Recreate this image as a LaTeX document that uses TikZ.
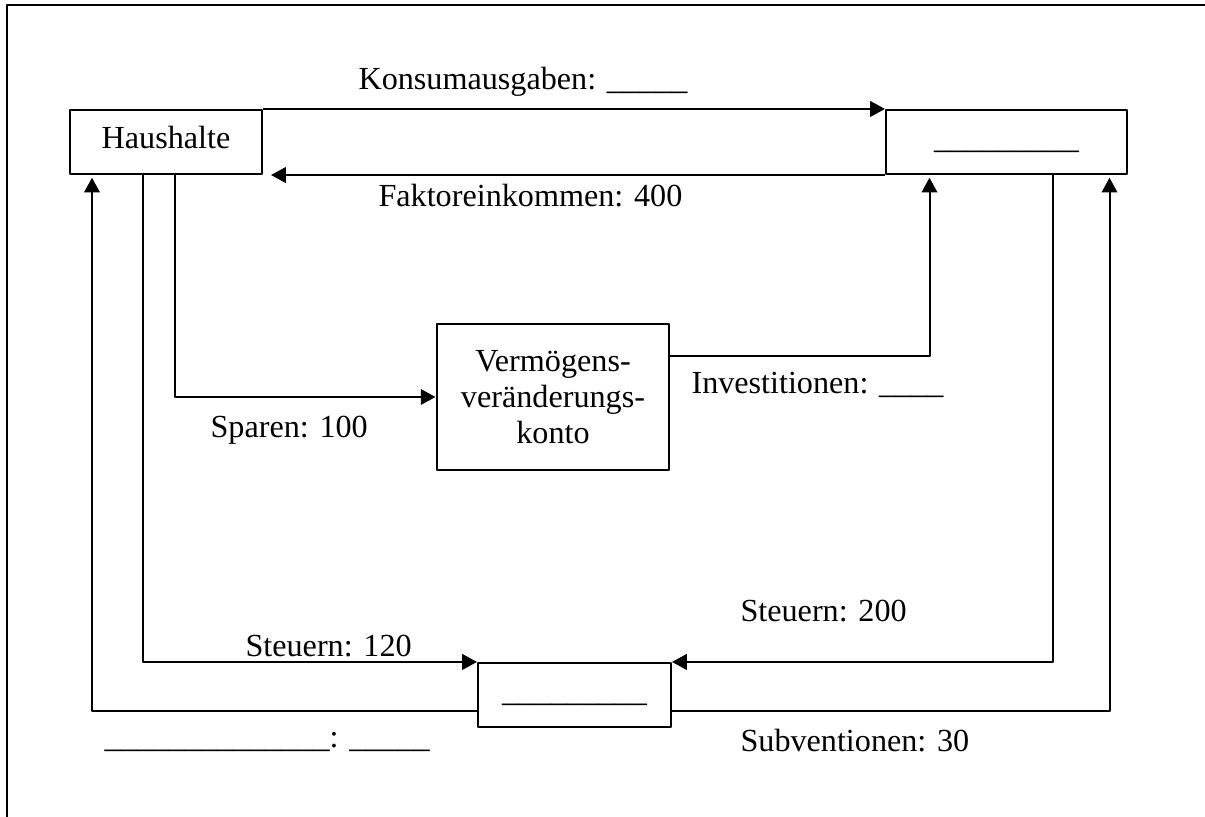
\documentclass[tikz,border=0pt]{standalone}
\usepackage{fontspec}
\setmainfont{Liberation Serif}
\usetikzlibrary{arrows.meta,calc}
\begin{document}
\begin{tikzpicture}[x=0.373pt,y=-0.373pt,font=\fontsize{12}{13.4}\selectfont,line join=round,>={Triangle[length=5.5pt,width=5.8pt]},
	box/.style={draw,line width=0.75pt,inner sep=0pt},
	flat/.style={box,text height=8pt,text depth=3pt,minimum height=23.9pt},
	lbl/.style={anchor=base west,inner sep=0pt},
	flow/.style={line width=0.75pt}]
		\useasboundingbox (0,0) rectangle (1205,817);
		\draw[line width=1.1pt] (7,817) -- (7,5) -- (1205,5);
		\node[flat,minimum width=71.6pt] (hh) at (166,142) {Haushalte};
		\node[flat,minimum width=89.9pt] (firm) at (1006.5,142) {\_\_\_\_\_\_\_\_\_};
		\node[box,minimum width=86.9pt,minimum height=54.1pt,align=center] (vk) at (553,397) {Vermögens-\\veränderungs-\\konto};
		\node[flat,minimum width=72pt] (gov) at (574.5,695) {\_\_\_\_\_\_\_\_\_};
		% Kreislauf
		\draw[flow,->] (hh.north east) -- (firm.north west);
		\draw[flow,->,shorten >=3pt] (firm.south west) -- (hh.south east);
		\draw[flow,->] ($(hh.south)+(9,0)$) |- (vk.west);
		\draw[flow,->] ($(hh.south)+(-23,0)$) |- (gov.north west);
		\draw[flow,->,shorten >=1pt] ($(gov.west)+(0,16)$) -| ($(hh.south)+(-74,0)$);
		\draw[flow,->,shorten >=1pt] ($(vk.east)+(0,-41)$) -| ($(firm.south)+(-77,0)$);
		\draw[flow,->] ($(firm.south)+(46,0)$) |- (gov.north east);
		\draw[flow,->,shorten >=1pt] ($(gov.east)+(0,16)$) -| ($(firm.south)+(103,0)$);
		% Beschriftungen
		\node[lbl] (konsum) at (358,90) {Konsumausgaben: \_\_\_\_\_};
		\node[lbl] (faktor) at (378,207) {Faktoreinkommen: 400};
		\node[lbl] (sparen) at (210,438) {Sparen: 100};
		\node[lbl] (invest) at (691,394) {Investitionen: \_\_\_\_};
		\node[lbl] (steuerhh) at (245,657) {Steuern: 120};
		\node[lbl] (steuerfirm) at (740,622) {Steuern: 200};
		\node[lbl] (transfer) at (104,748) {\_\_\_\_\_\_\_\_\_\_\_\_\_\_: \_\_\_\_\_};
		\node[lbl] (subv) at (740,752) {Subventionen: 30};
		\end{tikzpicture}
\end{document}
